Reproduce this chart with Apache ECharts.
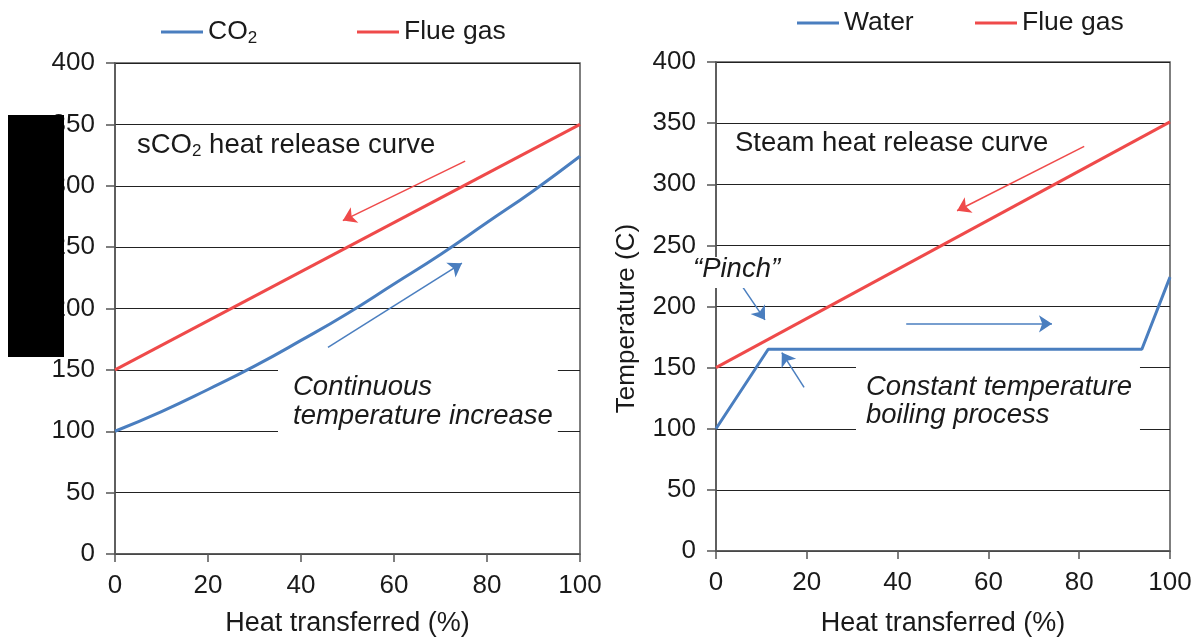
<!DOCTYPE html>
<html>
<head>
<meta charset="utf-8">
<title>Heat release curves</title>
<script src="https://cdn.jsdelivr.net/npm/echarts@6/dist/echarts.min.js"></script>
<style>
  html, body { margin: 0; padding: 0; background: #fff; }
  #chart { width: 1199px; height: 642px; }
</style>
</head>
<body>
<div id="chart"></div>
<script>
// ---- data ----
const xTicks = [0, 20, 40, 60, 80, 100];
const yTicks = [0, 50, 100, 150, 200, 250, 300, 350, 400];

// sCO2 cycle (left panel)
const co2Heat = [0, 10, 20, 30, 40, 50, 60, 70, 80, 90, 100];
const co2Temp = [100, 116, 134, 153, 174, 196, 220, 244, 270, 296, 324];
const flueLeftHeat = [0, 100];
const flueLeftTemp = [150, 350];

// steam cycle (right panel)
const waterHeat = [0, 11.5, 93.8, 100];
const waterTemp = [100, 165, 165, 224];
const flueRightHeat = [0, 100];
const flueRightTemp = [150, 351];

// annotation arrows: [fromX, fromY, toX, toY] in axis units
const leftRedArrow = [75.3, 320, 49.0, 271.6];
const leftBlueArrow = [45.8, 168.3, 74.6, 236.9];
const rightRedArrow = [81.1, 331, 53.1, 278.3];
const pinchArrow = [5.3, 219.1, 10.8, 189.0];
const plateauArrow = [19.4, 133.9, 14.5, 162.3];
const boilArrow = [41.9, 185.8, 74.0, 185.8];

// ---- styles ----
const FONT = 'Liberation Sans, Arial, Helvetica, sans-serif';
const BLUE = '#4a7ebf';
const RED = '#ef4a4a';
const TEXT = '#1a1a1a';
const AXIS = '#555';

const pairs = (xs, ys) => xs.map((x, i) => [x, ys[i]]);
const arrowItem = (a, color) => ({
  coords: [[a[0], a[1]], [a[2], a[3]]],
  lineStyle: { color: color }
});

const subRich = {
  sub: { fontSize: 17, fontFamily: FONT, color: TEXT, verticalAlign: 'bottom', lineHeight: 17 }
};

function xAxisFor(gridIndex, nameGap) {
  return {
    gridIndex: gridIndex,
    type: 'value',
    min: 0, max: 100, interval: 20,
    name: 'Heat transferred (%)',
    nameLocation: 'middle',
    nameGap: nameGap,
    nameTextStyle: { fontSize: 27, fontFamily: FONT, color: TEXT },
    axisLine: { show: true, lineStyle: { color: AXIS, width: 1.5 } },
    axisTick: { show: true, length: 8, lineStyle: { color: AXIS, width: 1.5 } },
    axisLabel: {
      fontSize: 26, fontFamily: FONT, color: TEXT, margin: 19,
      formatter: v => (xTicks.includes(v) ? String(v) : '')
    },
    splitLine: { show: false }
  };
}

function yAxisFor(gridIndex, withName) {
  const axis = {
    gridIndex: gridIndex,
    type: 'value',
    min: 0, max: 400, interval: 50,
    axisLine: { show: true, lineStyle: { color: AXIS, width: 1.5 } },
    axisTick: { show: true, length: 9, lineStyle: { color: AXIS, width: 1.5 } },
    axisLabel: {
      fontSize: 26, fontFamily: FONT, color: TEXT, margin: 20,
      formatter: v => (yTicks.includes(v) ? String(v) : '')
    },
    splitLine: { show: true, lineStyle: { color: '#222', width: 1 } }
  };
  if (withName) {
    Object.assign(axis, {
      name: 'Temperature (C)',
      nameLocation: 'middle',
      nameGap: 76,
      nameTextStyle: { fontSize: 26, fontFamily: FONT, color: TEXT, padding: [0, 24, 0, 0] }
    });
  }
  return axis;
}

function legendItem(name, left, top) {
  return {
    data: [name],
    left: left, top: top,
    icon: 'rect',
    itemWidth: 42, itemHeight: 3,
    itemGap: 0,
    formatter: n => (n === 'CO2' ? 'CO{sub|2}' : n),
    textStyle: { fontSize: 26.5, fontFamily: FONT, color: TEXT, lineHeight: 30, rich: subRich },
    selectedMode: false
  };
}

const annoFont = { fontSize: 27.5, fontFamily: FONT, fill: TEXT };

const option = {
  backgroundColor: '#fff',
  animation: false,
  grid: [
    { left: 115, top: 63, width: 465, height: 495.5, show: true, borderColor: AXIS, borderWidth: 1.5, containLabel: false },
    { left: 716, top: 62, width: 454, height: 493, show: true, borderColor: AXIS, borderWidth: 1.5, containLabel: false }
  ],
  xAxis: [xAxisFor(0, 56), xAxisFor(1, 59)],
  yAxis: [yAxisFor(0, false), yAxisFor(1, true)],
  legend: [
    legendItem('CO2', 156, 12),
    legendItem('Flue gas', 352, 12),
    legendItem('Water', 792, 3),
    legendItem('Flue gas', 970, 3)
  ],
  series: [
    {
      name: 'CO2', type: 'line', xAxisIndex: 0, yAxisIndex: 0,
      data: pairs(co2Heat, co2Temp), smooth: true, showSymbol: false,
      lineStyle: { color: BLUE, width: 3 }, itemStyle: { color: BLUE }, z: 3
    },
    {
      name: 'Flue gas', type: 'line', xAxisIndex: 0, yAxisIndex: 0,
      data: pairs(flueLeftHeat, flueLeftTemp), showSymbol: false,
      lineStyle: { color: RED, width: 3 }, itemStyle: { color: RED }, z: 3
    },
    {
      name: 'Water', type: 'line', xAxisIndex: 1, yAxisIndex: 1,
      data: pairs(waterHeat, waterTemp), showSymbol: false,
      lineStyle: { color: BLUE, width: 3 }, itemStyle: { color: BLUE }, z: 3
    },
    {
      name: 'Flue gas', type: 'line', xAxisIndex: 1, yAxisIndex: 1,
      data: pairs(flueRightHeat, flueRightTemp), showSymbol: false,
      lineStyle: { color: RED, width: 3 }, itemStyle: { color: RED }, z: 3
    },
    {
      name: 'arrows-left', type: 'lines', coordinateSystem: 'cartesian2d',
      xAxisIndex: 0, yAxisIndex: 0,
      symbol: ['none', 'arrow'], symbolSize: [9, 13],
      lineStyle: { width: 1.5, opacity: 1, curveness: 0 },
      data: [arrowItem(leftRedArrow, RED), arrowItem(leftBlueArrow, BLUE)], z: 4
    },
    {
      name: 'arrows-right', type: 'lines', coordinateSystem: 'cartesian2d',
      xAxisIndex: 1, yAxisIndex: 1,
      symbol: ['none', 'arrow'], symbolSize: [9, 13],
      lineStyle: { width: 1.5, opacity: 1, curveness: 0 },
      data: [
        arrowItem(rightRedArrow, RED), arrowItem(pinchArrow, BLUE),
        arrowItem(plateauArrow, BLUE), arrowItem(boilArrow, BLUE)
      ], z: 4
    }
  ],
  graphic: [
    {
      type: 'text', x: 137, y: 145, z: 50,
      style: Object.assign({
        text: 'sCO{sub|2} heat release curve', align: 'left', verticalAlign: 'middle',
        lineHeight: 30, rich: subRich
      }, annoFont)
    },
    {
      type: 'text', x: 735, y: 143, z: 50,
      style: Object.assign({
        text: 'Steam heat release curve', align: 'left', verticalAlign: 'middle'
      }, annoFont)
    },
    {
      type: 'text', x: 278, y: 367, z: 50,
      style: Object.assign({
        text: 'Continuous\ntemperature increase', align: 'left', verticalAlign: 'top',
        fontStyle: 'italic', lineHeight: 29, backgroundColor: '#fff', padding: [6, 5, 6, 15]
      }, annoFont)
    },
    {
      type: 'text', x: 856, y: 367, z: 50,
      style: Object.assign({
        text: 'Constant temperature\nboiling process', align: 'left', verticalAlign: 'top',
        fontStyle: 'italic', lineHeight: 28, backgroundColor: '#fff', padding: [6, 8, 6, 10]
      }, annoFont)
    },
    {
      type: 'text', x: 689, y: 257, z: 50,
      style: Object.assign({
        text: '\u201CPinch\u201D', align: 'left', verticalAlign: 'top',
        fontStyle: 'italic', lineHeight: 22, backgroundColor: '#fff', padding: [1, 4, 8, 4]
      }, annoFont)
    },
    {
      type: 'rect', z: 60,
      shape: { x: 8, y: 115, width: 56, height: 242 },
      style: { fill: '#000' }
    }
  ]
};

const chart = echarts.init(document.getElementById('chart'), null, { renderer: 'canvas' });
chart.setOption(option);
</script>
</body>
</html>
